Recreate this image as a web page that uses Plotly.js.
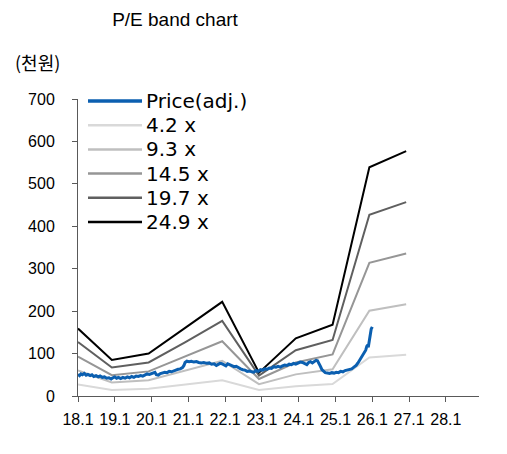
<!DOCTYPE html>
<html>
<head>
<meta charset="utf-8">
<script src="https://cdn.plot.ly/plotly-3.0.1.min.js"></script>
<style>html,body{margin:0;padding:0;background:#fff}#chart{width:507px;height:454px}</style>
</head>
<body>
<div id="chart"></div>
<script>
// Tick positions (year fraction) and labels
const tickYears = [18, 19, 20, 21, 22, 23, 24, 25, 26, 27, 28];
const tickLabels = ['18.1', '19.1', '20.1', '21.1', '22.1', '23.1', '24.1', '25.1', '26.1', '27.1', '28.1'];

// P/E band points (year-end points)
const bandX = [18.0, 18.92, 19.92, 20.92, 21.92, 22.92, 23.92, 24.92, 25.92, 26.92];
const band42 = [27, 14, 17, 27, 37, 14, 23, 28, 91, 97];
const band93 = [60, 32, 37, 60, 83, 28, 51, 63, 201, 216];
const band145 = [93, 49, 58, 94, 129, 40, 79, 98, 314, 336];
const band197 = [127, 67, 79, 127, 177, 48, 108, 132, 427, 457];
const band249 = [159, 85, 100, 161, 222, 55, 136, 168, 539, 577];

// Adjusted price (thousand won)
const priceX = [18.00,18.04,18.08,18.12,18.17,18.22,18.27,18.33,18.38,18.43,18.49,18.55,18.60,18.66,18.72,18.78,18.84,18.90,18.95,
  19.00,19.05,19.10,19.16,19.22,19.28,19.34,19.40,19.46,19.52,19.58,19.64,19.70,19.76,19.82,19.88,19.94,
  20.00,20.05,20.09,20.13,20.18,20.24,20.30,20.36,20.42,20.48,20.54,20.60,20.66,20.72,20.78,20.84,20.88,20.91,20.96,
  21.02,21.08,21.15,21.22,21.28,21.35,21.42,21.50,21.57,21.63,21.70,21.76,21.80,21.86,21.91,21.96,
  22.02,22.07,22.12,22.18,22.24,22.30,22.36,22.42,22.48,22.54,22.60,22.66,22.72,22.78,22.84,22.90,22.96,
  23.02,23.08,23.14,23.20,23.26,23.32,23.38,23.44,23.50,23.56,23.62,23.68,23.74,23.80,23.86,23.92,23.98,
  24.04,24.10,24.16,24.22,24.27,24.32,24.37,24.42,24.47,24.51,24.55,24.59,24.63,24.67,24.72,24.78,24.84,24.90,24.96,
  25.02,25.08,25.14,25.20,25.26,25.32,25.38,25.44,25.50,25.56,25.61,25.66,25.71,25.75,25.79,25.82,25.85,25.87,25.89,25.91,25.93,25.95,25.97,26.00];
const priceY = [51,48,52,50,53,49,51,48,50,46,48,45,47,44,45,42,43,40,43,
  45,42,44,41,44,42,45,43,46,44,47,46,48,47,50,52,51,
  53,55,56,50,49,53,54,56,55,58,57,60,61,63,64,67,72,79,82,
  81,82,80,81,79,78,79,77,78,75,76,72,74,77,76,73,
  71,76,74,71,69,70,66,64,62,61,58,59,57,56,60,58,62,
  61,64,63,66,65,69,68,70,68,71,73,72,75,74,77,75,78,
  80,79,76,74,79,81,78,82,84,83,78,70,62,58,55,54,53,55,54,
  56,55,58,57,60,61,63,64,68,72,78,85,90,97,101,108,117,120,115,128,140,150,158,163];

const legendFont = {family: 'DejaVu Sans, Verdana, sans-serif', size: 20, color: '#000'};
const tickFont = {family: 'Liberation Sans, Arial, sans-serif', size: 16, color: '#000'};

const series = [
  {x: priceX, y: priceY, name: 'Price(adj.)', color: '#0B5FB0', width: 3},
  {x: bandX, y: band42, name: '4.2 x', color: '#D9D9D9', width: 2},
  {x: bandX, y: band93, name: '9.3 x', color: '#BFBFBF', width: 2},
  {x: bandX, y: band145, name: '14.5 x', color: '#969696', width: 2},
  {x: bandX, y: band197, name: '19.7 x', color: '#5F5F5F', width: 2},
  {x: bandX, y: band249, name: '24.9 x', color: '#000000', width: 2}
];

// bands drawn first, price on top
const traces = series.slice(1).concat([series[0]]).map(s => ({
  x: s.x, y: s.y, name: s.name, mode: 'lines', showlegend: false,
  line: {color: s.color, width: s.width}
}));

// Legend (drawn in paper space, inside the plot's top-left)
const PL = 78, PW = 401, PB = 396, PH = 297;
const px2x = v => (v - PL) / PW;
const px2y = v => (PB - v) / PH;
const legendTop = 101, legendStep = 24.2;
const shapes = [];
const annotations = [];
series.forEach((s, i) => {
  const yy = px2y(legendTop + i * legendStep);
  shapes.push({type: 'line', xref: 'paper', yref: 'paper', x0: px2x(88), x1: px2x(142), y0: yy, y1: yy,
    line: {color: s.color, width: s.width + 0.5}});
  annotations.push({text: s.name, xref: 'paper', yref: 'paper', x: px2x(144), y: yy, xanchor: 'left', yanchor: 'middle',
    showarrow: false, font: legendFont});
});
annotations.push({text: '(천원)', xref: 'paper', yref: 'paper', x: px2x(13), y: px2y(62),
  xanchor: 'left', yanchor: 'middle', showarrow: false,
  font: {family: 'Noto Sans CJK KR, sans-serif', size: 18, color: '#000'}});

const layout = {
  width: 507, height: 454,
  margin: {l: 78, r: 28, t: 99, b: 58},
  paper_bgcolor: '#fff', plot_bgcolor: '#fff',
  showlegend: false,
  title: {text: 'P/E band chart', x: 175/507, xref: 'container', xanchor: 'center', y: 1 - 19/454, yref: 'container', yanchor: 'middle',
    font: {family: 'Liberation Sans, Arial, sans-serif', size: 19, color: '#000'}},
  xaxis: {range: [18, 28.9], tickmode: 'array', tickvals: tickYears, ticktext: tickLabels, ticks: 'outside', ticklen: 5,
    tickcolor: '#595959', showline: true, linecolor: '#595959', linewidth: 1, showgrid: false, zeroline: false,
    tickfont: tickFont, ticklabelstandoff: 4},
  yaxis: {range: [0, 700], dtick: 100, tick0: 0, ticks: 'outside', ticklen: 5, tickcolor: '#595959', showline: true,
    linecolor: '#595959', linewidth: 1, showgrid: false, zeroline: false, tickfont: tickFont, ticklabelstandoff: 14},
  shapes: shapes,
  annotations: annotations
};

Plotly.newPlot('chart', traces, layout, {staticPlot: true, displayModeBar: false});
</script>
</body>
</html>
